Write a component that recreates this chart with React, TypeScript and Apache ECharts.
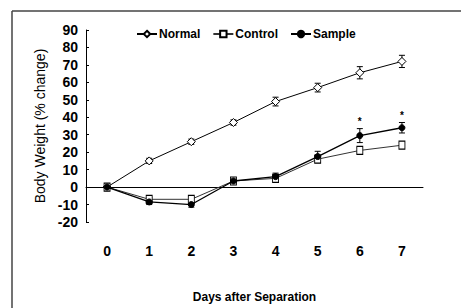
import React, { useEffect, useRef } from "react";
import * as echarts from "echarts";

const days = ["0", "1", "2", "3", "4", "5", "6", "7"];
const yTicks = [-20, 90, 10];
const normal = [0, 15, 26, 37, 49, 57, 65.5, 72];
const normalErr = [0.5, 1.5, 1.5, 1.5, 2.5, 2.5, 3.5, 3.5];
const control = [0, -7, -7, 3.5, 5, 16, 21, 24];
const controlErr = [0.5, 1, 1.5, 1, 1.5, 2, 1.5, 1.5];
const sample = [0, -8.5, -10, 3.5, 6, 17.5, 29.5, 34];
const sampleErr = [0.5, 1.5, 1.5, 1, 2, 3, 4, 3];
const sampleSig = [false, false, false, false, false, false, true, true];

const FONT = "'Liberation Sans', Arial, sans-serif";

function errSeries(name: string, vals: number[], errs: number[], sig?: boolean[]) {
  return {
    type: "custom",
    name: name + "-err",
    silent: true,
    z: 1,
    data: vals.map((v, i) => [i, v, errs[i], sig && sig[i] ? 1 : 0]),
    renderItem: (params: any, api: any) => {
      const x = api.value(0);
      const y = api.value(1);
      const e = api.value(2);
      const top = api.coord([x, y + e]);
      const bot = api.coord([x, y - e]);
      const cap = 3;
      const children: any[] = [
        { type: "line", shape: { x1: top[0], y1: top[1], x2: bot[0], y2: bot[1] }, style: { stroke: "#000", lineWidth: 1 } },
        { type: "line", shape: { x1: top[0] - cap, y1: top[1], x2: top[0] + cap, y2: top[1] }, style: { stroke: "#000", lineWidth: 1 } },
        { type: "line", shape: { x1: bot[0] - cap, y1: bot[1], x2: bot[0] + cap, y2: bot[1] }, style: { stroke: "#000", lineWidth: 1 } },
      ];
      if (api.value(3)) {
        children.push({
          type: "text",
          style: { x: top[0], y: top[1] - 2, text: "*", fill: "#000", font: "bold 10px " + FONT, align: "center", verticalAlign: "bottom" },
        });
      }
      return { type: "group", children };
    },
  };
}

export default function App() {
  const ref = useRef<HTMLDivElement>(null);
  useEffect(() => {
    const chart = echarts.init(ref.current!, null, { renderer: "svg" });
    chart.setOption({
      animation: false,
      backgroundColor: "#fff",
      textStyle: { fontFamily: FONT },
      grid: { left: 86, right: 38, top: 30, bottom: 43 },
      legend: {
        left: 131,
        top: 23,
        itemWidth: 20,
        itemHeight: 8,
        itemGap: 12,
        data: ["Normal", "Control", "Sample"],
        textStyle: { fontFamily: FONT, fontWeight: "bold", fontSize: 12, color: "#000", padding: [0, 0, 0, -3] },
      },
      xAxis: {
        type: "category",
        data: days,
        boundaryGap: true,
        axisLine: { onZero: true, lineStyle: { color: "#000", width: 1 } },
        axisTick: { show: false },
        axisLabel: { margin: 22, fontWeight: "bold", fontSize: 14, color: "#000", fontFamily: FONT },
        name: "Days after Separation",
        nameLocation: "middle",
        nameGap: 69,
        nameTextStyle: { fontWeight: "bold", fontSize: 12, color: "#000", fontFamily: FONT },
        splitLine: { show: false },
      },
      yAxis: {
        type: "value",
        min: yTicks[0],
        max: yTicks[1],
        interval: yTicks[2],
        axisLine: { show: true, lineStyle: { color: "#000", width: 1 } },
        axisTick: { show: true, inside: true, length: 3, lineStyle: { color: "#000" } },
        axisLabel: { margin: 8, fontWeight: "bold", fontSize: 14, color: "#000", fontFamily: FONT },
        splitLine: { show: false },
        name: "Body Weight (% change)",
        nameLocation: "middle",
        nameRotate: 90,
        nameGap: 39,
        nameTextStyle: { fontSize: 14, color: "#000", fontFamily: FONT },
      },
      series: [
        errSeries("Normal", normal, normalErr),
        errSeries("Control", control, controlErr),
        errSeries("Sample", sample, sampleErr, sampleSig),
        {
          name: "Normal",
          type: "line",
          data: normal,
          symbol: "diamond",
          symbolSize: 8,
          z: 3,
          lineStyle: { color: "#000", width: 1 },
          itemStyle: { color: "#fff", borderColor: "#000", borderWidth: 1 },
        },
        {
          name: "Control",
          type: "line",
          data: control,
          symbol: "rect",
          symbolSize: [6, 8],
          z: 3,
          lineStyle: { color: "#333", width: 1 },
          itemStyle: { color: "#fff", borderColor: "#000", borderWidth: 1 },
        },
        {
          name: "Sample",
          type: "line",
          data: sample,
          symbol: "circle",
          symbolSize: 6,
          z: 4,
          lineStyle: { color: "#000", width: 1.3 },
          itemStyle: { color: "#000", borderColor: "#000", borderWidth: 1 },
        },
      ],
      graphic: [
        { type: "line", shape: { x1: 12, y1: 11, x2: 461, y2: 11 }, style: { stroke: "#444", lineWidth: 1.5 } },
        { type: "line", shape: { x1: 12, y1: 11, x2: 12, y2: 308 }, style: { stroke: "#444", lineWidth: 1.5 } },
      ],
    });
    return () => chart.dispose();
  }, []);
  return <div ref={ref} style={{ width: 461, height: 308, position: "absolute", left: 0, top: 0 }} />;
}
